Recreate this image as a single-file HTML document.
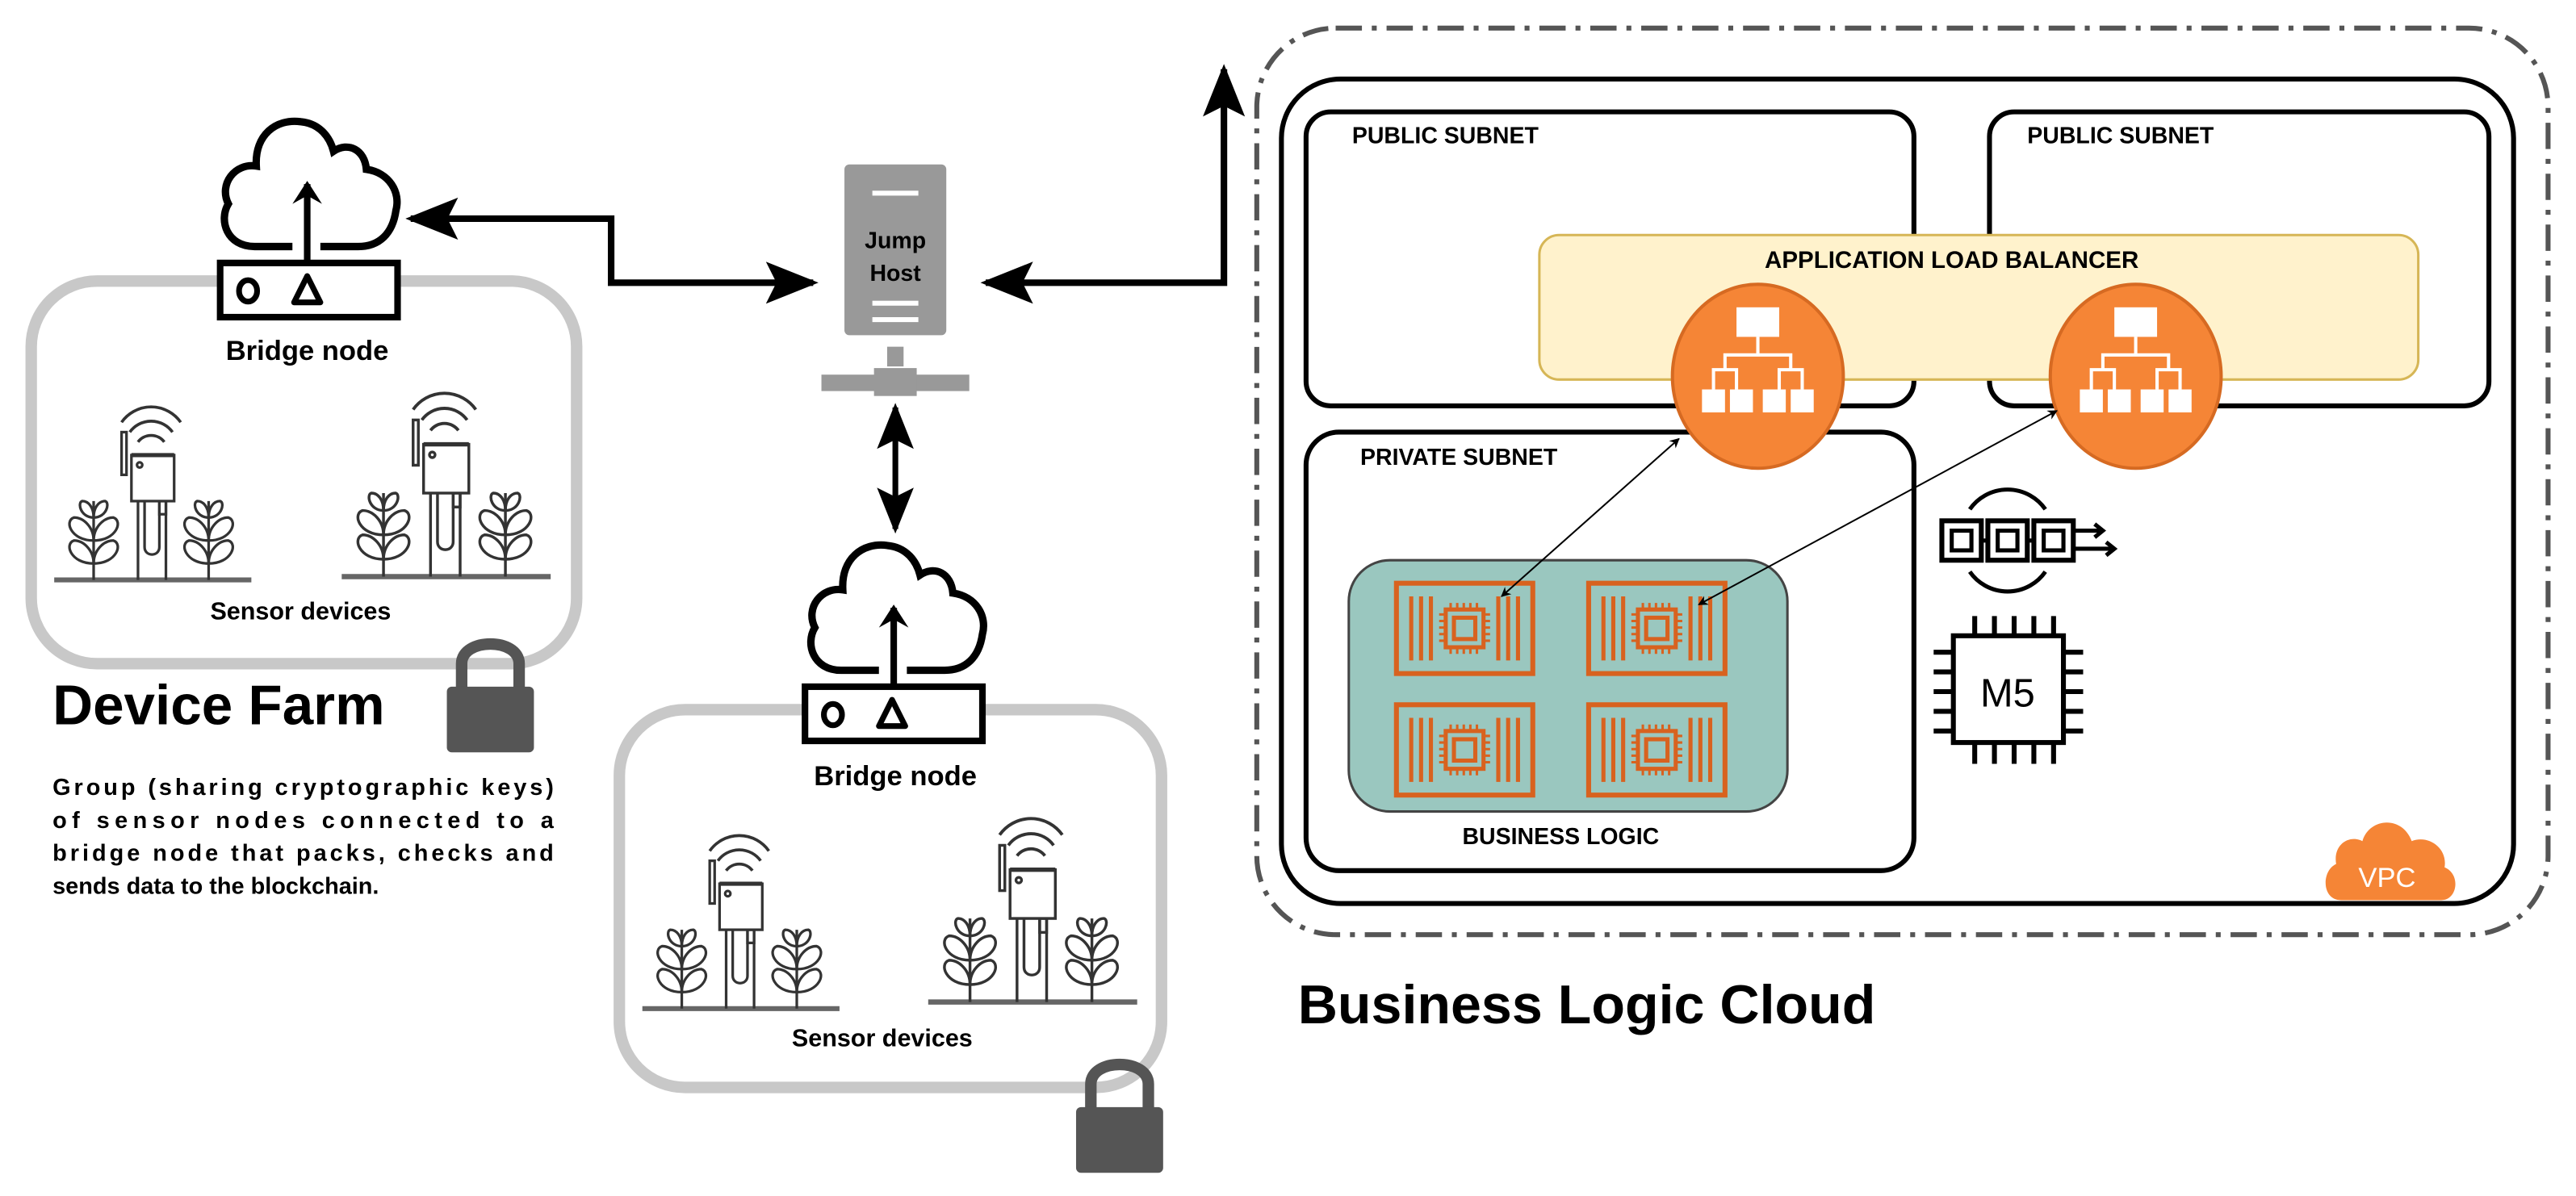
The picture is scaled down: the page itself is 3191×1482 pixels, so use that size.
<!DOCTYPE html>
<html><head><meta charset="utf-8"><style>
html,body{margin:0;padding:0;background:#fff;}
svg{display:block;}
text{font-family:"Liberation Sans",sans-serif;font-weight:bold;}
</style></head><body>
<svg width="3191" height="1482" viewBox="0 0 1568 728" xmlns="http://www.w3.org/2000/svg">
<defs>
<marker id="ah" viewBox="0 0 10 10" refX="9" refY="5" markerWidth="6" markerHeight="6" orient="auto-start-reverse"><path d="M0,0 L10,5 L0,10 L3,5 z" fill="#000"/></marker>
<marker id="ahs" viewBox="0 0 10 10" refX="9" refY="5" markerWidth="8" markerHeight="8" orient="auto-start-reverse"><path d="M0,1 L10,5 L0,9 L2,5 z" fill="#000"/></marker>
<g id="cloud">
<path d="M45,78 H22 C5,78 0,62 6,52 C0,40 10,27 23,29 C22,10 35,0 50,2 C62,3 68,12 70,20 C79,14 89,19 90,31 C104,33 111,45 108,56 C106,70 98,78 85,78 H62" fill="none" stroke="#000" stroke-width="4.5"/>
<line x1="54" y1="88" x2="54" y2="40" stroke="#000" stroke-width="4"/>
<path d="M45,52 L54,38 L63,52 L54,47 z" fill="#000"/>
</g>
<g id="bridge">
<rect x="0" y="0" width="108" height="33" fill="#fff" stroke="#000" stroke-width="4"/>
<ellipse cx="17" cy="17" rx="5.5" ry="6.5" fill="none" stroke="#000" stroke-width="3.5"/>
<path d="M53,8 L61,24 L45,24 z" fill="none" stroke="#000" stroke-width="3.5" stroke-linejoin="round"/>
</g>
<g id="plant" fill="none" stroke="#333" stroke-width="1.6">
<line x1="0" y1="0" x2="0" y2="-48"/>
<path d="M0,-10 C-14,-10 -18,-22 -12,-24 C-6,-24 0,-18 0,-10 M0,-10 C14,-10 18,-22 12,-24 C6,-24 0,-18 0,-10"/>
<path d="M0,-24 C-14,-24 -18,-36 -12,-38 C-6,-38 0,-32 0,-24 M0,-24 C14,-24 18,-36 12,-38 C6,-38 0,-32 0,-24"/>
<path d="M0,-38 C-8,-38 -10,-47 -7,-48 C-3,-48 0,-44 0,-38 M0,-38 C8,-38 10,-47 7,-48 C3,-48 0,-44 0,-38"/>
</g>
<g id="sensor">
<line x1="0" y1="0" x2="120" y2="0" stroke="#666" stroke-width="3"/>
<use href="#plant" x="24" y="0"/>
<use href="#plant" x="94" y="0"/>
<g fill="none" stroke="#333" stroke-width="1.6">
<line x1="51" y1="-48" x2="51" y2="0"/><line x1="68" y1="-48" x2="68" y2="0"/>
<path d="M55,-48 V-20 C55,-14 64,-14 64,-20 V-48"/>
<rect x="64" y="-48" width="4" height="8"/>
<rect x="47" y="-76" width="26" height="28" fill="#fff"/>
<line x1="47" y1="-76" x2="73" y2="-76" stroke-width="2.5"/>
<circle cx="52" cy="-70" r="1.6"/>
<rect x="41" y="-90" width="3" height="26"/>
<path d="M51,-84 A10,10 0 0 1 67,-84 M46,-90 A16,16 0 0 1 72,-90 M41,-96 A22,22 0 0 1 77,-96" stroke-width="1.8"/>
</g>
</g>
<g id="lock">
<path d="M9,36 V20 C9,4 44,4 44,20 V36" fill="none" stroke="#555" stroke-width="7"/>
<rect x="0" y="34" width="53" height="40" rx="3" fill="#555"/>
</g>
<g id="alb">
<ellipse cx="0" cy="0" rx="52" ry="56" fill="#f58536" stroke="#d66a22" stroke-width="2"/>
<g fill="#fff"><rect x="-13" y="-42" width="26" height="18"/>
<rect x="-34" y="8" width="14" height="14"/><rect x="-17" y="8" width="14" height="14"/>
<rect x="3" y="8" width="14" height="14"/><rect x="20" y="8" width="14" height="14"/></g>
<g fill="none" stroke="#fff" stroke-width="2"><path d="M0,-24 V-13 M-20,-4 V-13 H20 V-4 M-27,8 V-4 H-13 V8 M13,8 V-4 H27 V8"/></g>
</g>
<g id="inst">
<rect x="0" y="0" width="83" height="55" fill="none" stroke="#d8621f" stroke-width="3"/>
<g stroke="#d8621f" stroke-width="2.5" fill="none">
<path d="M9,8 V47 M15,8 V47 M21,8 V47 M62,8 V47 M68,8 V47 M74,8 V47"/>
<rect x="30" y="16" width="23" height="23"/><rect x="35" y="21" width="13" height="13"/>
<path d="M33,12 V16 M37,12 V16 M41,12 V16 M45,12 V16 M49,12 V16 M33,39 V43 M37,39 V43 M41,39 V43 M45,39 V43 M49,39 V43 M26,19 H30 M26,23 H30 M26,27 H30 M26,31 H30 M26,35 H30 M53,19 H57 M53,23 H57 M53,27 H57 M53,31 H57 M53,35 H57" stroke-width="1.5"/>
</g>
</g>
</defs>

<!-- Device farm 1 -->
<rect x="19" y="171" width="332" height="233" rx="40" fill="#fff" stroke="#c8c8c8" stroke-width="7"/>
<use href="#cloud" x="133" y="72"/>
<use href="#bridge" x="134" y="160"/>
<text x="187" y="219" font-size="17" text-anchor="middle">Bridge node</text>
<use href="#sensor" x="33" y="353"/>
<g transform="translate(208 351) scale(1.06) translate(-208 -351)"><use href="#sensor" x="208" y="351"/></g>
<text x="183" y="377" font-size="15" text-anchor="middle">Sensor devices</text>
<use href="#lock" x="272" y="384"/>
<text x="32" y="441" font-size="34">Device Farm</text>
<g font-size="14.2">
<text x="32" y="484" textLength="305" lengthAdjust="spacing">Group (sharing cryptographic keys)</text>
<text x="32" y="504" textLength="305" lengthAdjust="spacing">of sensor nodes connected to a</text>
<text x="32" y="524" textLength="305" lengthAdjust="spacing">bridge node that packs, checks and</text>
<text x="32" y="544">sends data to the blockchain.</text>
</g>

<!-- Jump host -->
<rect x="514" y="100" width="62" height="104" rx="3" fill="#999"/>
<rect x="531" y="116" width="28" height="3" fill="#fff"/>
<rect x="531" y="183" width="28" height="3" fill="#fff"/>
<rect x="531" y="193" width="28" height="3" fill="#fff"/>
<text x="545" y="151" font-size="14" text-anchor="middle">Jump</text>
<text x="545" y="171" font-size="14" text-anchor="middle">Host</text>
<rect x="540" y="211" width="10" height="12" fill="#999"/>
<rect x="500" y="228" width="90" height="10" fill="#999"/>
<rect x="532" y="224" width="26" height="17" fill="#999"/>

<!-- connectors -->
<polyline points="495,172 372,172 372,133 250,133" fill="none" stroke="#000" stroke-width="4" marker-end="url(#ahs)" marker-start="url(#ahs)"/>
<polyline points="600,172 745,172 745,42" fill="none" stroke="#000" stroke-width="4" marker-end="url(#ahs)" marker-start="url(#ahs)"/>
<line x1="545" y1="248" x2="545" y2="322" stroke="#000" stroke-width="3.5" marker-end="url(#ahs)" marker-start="url(#ahs)"/>

<!-- Device farm 2 -->
<rect x="377" y="432" width="330" height="230" rx="40" fill="#fff" stroke="#c8c8c8" stroke-width="7"/>
<use href="#cloud" x="490" y="330"/>
<use href="#bridge" x="490" y="418"/>
<text x="545" y="478" font-size="17" text-anchor="middle">Bridge node</text>
<use href="#sensor" x="391" y="614"/>
<g transform="translate(565 610) scale(1.06) translate(-565 -610)"><use href="#sensor" x="565" y="610"/></g>
<text x="537" y="637" font-size="15" text-anchor="middle">Sensor devices</text>
<use href="#lock" x="655" y="640"/>

<!-- VPC -->
<rect x="765" y="17" width="786" height="552" rx="48" fill="none" stroke="#555" stroke-width="3" stroke-dasharray="16,6,3,6"/>
<rect x="780" y="48" width="750" height="502" rx="36" fill="#fff" stroke="#000" stroke-width="3"/>
<rect x="795" y="68" width="370" height="179" rx="15" fill="#fff" stroke="#000" stroke-width="3"/>
<text x="823" y="87" font-size="14">PUBLIC SUBNET</text>
<rect x="1211" y="68" width="304" height="179" rx="15" fill="#fff" stroke="#000" stroke-width="3"/>
<text x="1234" y="87" font-size="14">PUBLIC SUBNET</text>
<rect x="795" y="263" width="370" height="267" rx="20" fill="#fff" stroke="#000" stroke-width="3"/>
<text x="828" y="283" font-size="14">PRIVATE SUBNET</text>
<rect x="937" y="143" width="535" height="88" rx="12" fill="#fff2cc" stroke="#d6b656" stroke-width="1.5"/>
<text x="1188" y="163" font-size="14.5" text-anchor="middle">APPLICATION LOAD BALANCER</text>
<use href="#alb" x="1070" y="229"/>
<use href="#alb" x="1300" y="229"/>

<rect x="821" y="341" width="267" height="153" rx="25" fill="#9ac7bf" stroke="#444" stroke-width="1.5"/>
<use href="#inst" x="850" y="355"/>
<use href="#inst" x="967" y="355"/>
<use href="#inst" x="850" y="429"/>
<use href="#inst" x="967" y="429"/>
<text x="950" y="514" font-size="14" text-anchor="middle">BUSINESS LOGIC</text>

<line x1="914" y1="363" x2="1022" y2="267" stroke="#000" stroke-width="1" marker-end="url(#ah)" marker-start="url(#ah)"/>
<line x1="1034" y1="368" x2="1252" y2="250" stroke="#000" stroke-width="1" marker-end="url(#ah)" marker-start="url(#ah)"/>

<!-- blockchain icon -->
<g fill="none" stroke="#000">
<path d="M1199,310 A28,28 0 0 1 1245,310 M1199,348 A28,28 0 0 0 1245,348" stroke-width="2.5"/>
<rect x="1182" y="317" width="24" height="24" stroke-width="3"/><rect x="1188" y="323" width="12" height="12" stroke-width="2.5"/>
<rect x="1210" y="317" width="24" height="24" stroke-width="3"/><rect x="1216" y="323" width="12" height="12" stroke-width="2.5"/>
<rect x="1238" y="317" width="24" height="24" stroke-width="3"/><rect x="1244" y="323" width="12" height="12" stroke-width="2.5"/>
<path d="M1206,329 H1210 M1234,329 H1238 M1262,323 H1278 M1262,334 H1285" stroke-width="2.5"/>
<path d="M1275,319 L1280,323 L1275,327 M1282,330 L1287,334 L1282,338" stroke-width="2.5"/>
</g>
<!-- M5 chip -->
<g stroke="#000" stroke-width="3" fill="none">
<rect x="1189" y="387" width="67" height="65" fill="#fff"/>
<path d="M1202,375 V387 M1214,375 V387 M1226,375 V387 M1238,375 V387 M1250,375 V387 M1202,452 V465 M1214,452 V465 M1226,452 V465 M1238,452 V465 M1250,452 V465 M1177,397 H1189 M1177,409 H1189 M1177,421 H1189 M1177,433 H1189 M1177,445 H1189 M1256,397 H1268 M1256,409 H1268 M1256,421 H1268 M1256,433 H1268 M1256,445 H1268"/>
</g>
<text x="1222" y="430" font-size="24" text-anchor="middle" style="font-weight:normal">M5</text>

<!-- VPC cloud -->
<path d="M1425,548 C1413,548 1413,530 1422,526 C1420,514 1430,508 1438,512 C1442,498 1462,496 1468,512 C1478,508 1490,516 1488,528 C1498,532 1496,548 1486,548 Z" fill="#f58536"/>
<text x="1453" y="540" font-size="17" fill="#fff" text-anchor="middle" style="font-weight:normal">VPC</text>

<text x="790" y="623" font-size="33.5">Business Logic Cloud</text>
</svg>
</body></html>
